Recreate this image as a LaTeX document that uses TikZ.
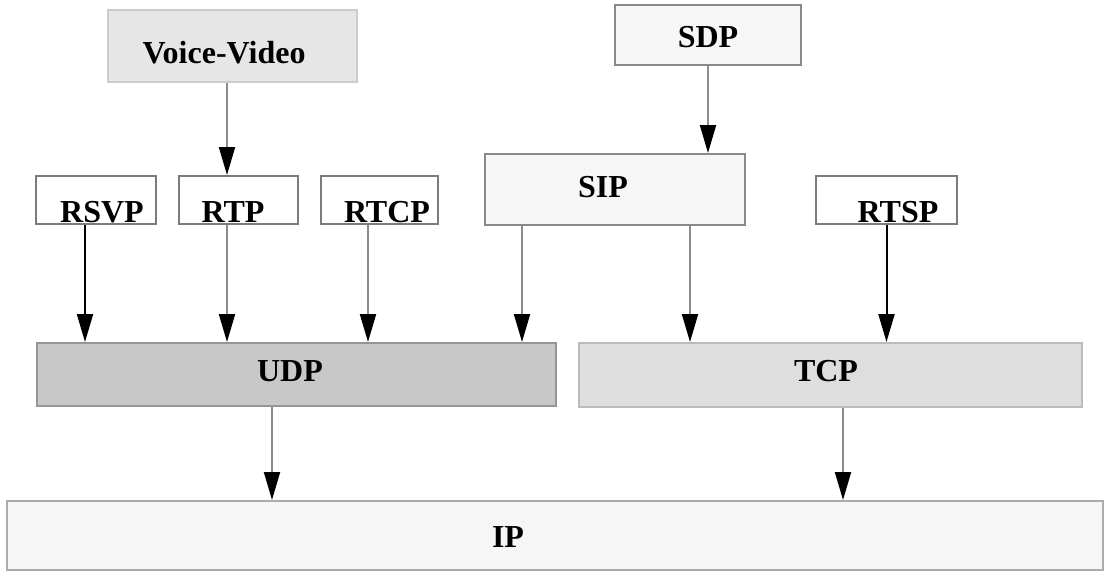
\documentclass[tikz,border=0pt]{standalone}
\usepackage{fontspec}
\setmainfont{Liberation Serif}
\usetikzlibrary{arrows.meta}

\definecolor{vvfill}{HTML}{E6E6E6}
\definecolor{vvline}{HTML}{CCCCCC}
\definecolor{lightfill}{HTML}{F6F6F6}
\definecolor{midline}{HTML}{8A8A8A}
\definecolor{udpfill}{HTML}{C8C8C8}
\definecolor{udpline}{HTML}{959595}
\definecolor{tcpfill}{HTML}{DEDEDE}
\definecolor{tcpline}{HTML}{BBBBBB}
\definecolor{ipline}{HTML}{ABABAB}
\definecolor{wireline}{HTML}{8C8C8C}

\tikzset{
  box/.style={draw, rectangle, line width=2pt, inner sep=0pt},
  proto/.style={box, fill=white, draw=midline!90!black, minimum height=48pt},
  lbl/.style={anchor=base, inner sep=0pt, font=\fontsize{32}{38}\selectfont\bfseries},
  conn/.style={draw=wireline, line width=2pt,
    -{Triangle[length=28pt, width=16pt, color=black]}},
  darkconn/.style={conn, draw=black},
}

\begin{document}
\begin{tikzpicture}[x=1pt, y=-1pt]
  \useasboundingbox (0,0) rectangle (1107,576);

  % application layer
  \node[box, fill=vvfill, draw=vvline, minimum width=249pt, minimum height=72pt] (vv) at (232.5,46) {};
  \node[lbl] (vv-t) at (224,63) {Voice-Video};

  \node[box, fill=lightfill, draw=midline, minimum width=186pt, minimum height=60pt] (sdp) at (708,35) {};
  \node[lbl] (sdp-t) at (708,47) {SDP};

  \node[box, fill=lightfill, draw=midline, minimum width=260pt, minimum height=71pt] (sip) at (615,189.5) {};
  \node[lbl] (sip-t) at (603,197) {SIP};

  % protocol row
  \node[proto, minimum width=120pt] (rsvp) at (96,200) {};
  \node[lbl] (rsvp-t) at (102,222) {RSVP};

  \node[proto, minimum width=119pt] (rtp) at (238.5,200) {};
  \node[lbl] (rtp-t) at (233,222) {RTP};

  \node[proto, minimum width=117pt] (rtcp) at (379.5,200) {};
  \node[lbl] (rtcp-t) at (387,222) {RTCP};

  \node[proto, minimum width=141pt] (rtsp) at (886.5,200) {};
  \node[lbl] (rtsp-t) at (898,222) {RTSP};

  % transport layer
  \node[box, fill=udpfill, draw=udpline, minimum width=519pt, minimum height=63pt] (udp) at (296.5,374.5) {};
  \node[lbl] (udp-t) at (290,381) {UDP};

  \node[box, fill=tcpfill, draw=tcpline, minimum width=503pt, minimum height=64pt] (tcp) at (830.5,375) {};
  \node[lbl] (tcp-t) at (826,381) {TCP};

  % network layer
  \node[box, fill=lightfill, draw=ipline, minimum width=1096pt, minimum height=69pt] (ip) at (555,535.5) {};
  \node[lbl] (ip-t) at (508,547) {IP};

  % connectors
  \draw[conn] ([xshift=-5.5pt]vv.south) -- ([xshift=-5.5pt]vv.south |- rtp.north);
  \draw[conn] (sdp.south) -- (sdp.south |- sip.north);

  \draw[darkconn] ([xshift=-11pt]rsvp.south) -- ([xshift=-11pt]rsvp.south |- udp.north);
  \draw[conn] ([xshift=-11.5pt]rtp.south) -- ([xshift=-11.5pt]rtp.south |- udp.north);
  \draw[conn] ([xshift=-11.5pt]rtcp.south) -- ([xshift=-11.5pt]rtcp.south |- udp.north);
  \draw[conn] ([xshift=-93pt]sip.south) -- ([xshift=-93pt]sip.south |- udp.north);
  \draw[conn] ([xshift=75pt]sip.south) -- ([xshift=75pt]sip.south |- tcp.north);
  \draw[darkconn] (rtsp.south) -- (rtsp.south |- tcp.north);

  \draw[conn] ([xshift=-24.5pt]udp.south) -- ([xshift=-24.5pt]udp.south |- ip.north);
  \draw[conn] ([xshift=12.5pt]tcp.south) -- ([xshift=12.5pt]tcp.south |- ip.north);
\end{tikzpicture}
\end{document}
